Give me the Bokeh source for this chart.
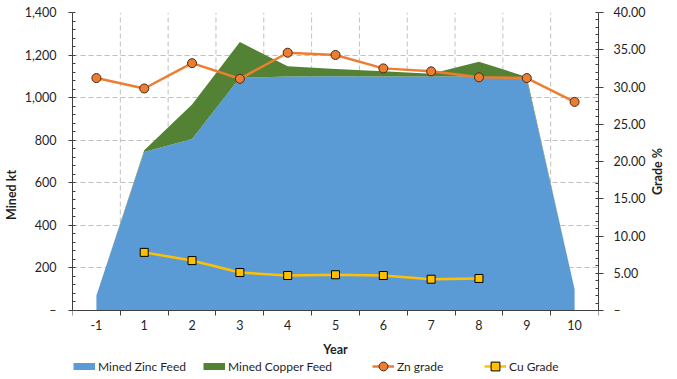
from bokeh.plotting import figure
from bokeh.models import (ColumnDataSource, Range1d, LinearAxis, FixedTicker, SingleIntervalTicker,
                          NumeralTickFormatter, Legend, LegendItem)
from bokeh.embed import file_html
from bokeh.resources import INLINE
import math

years = ["-1", "1", "2", "3", "4", "5", "6", "7", "8", "9", "10"]
zinc_feed = [70, 745, 806, 1093, 1099, 1100, 1099, 1099, 1099, 1085, 100]
copper_feed = [0, 8, 162, 168, 48, 35, 25, 13, 70, 12, 0]
zn_grade = [31.2, 29.8, 33.2, 31.1, 34.6, 34.3, 32.5, 32.1, 31.3, 31.2, 28.0]
cu_grade = [math.nan, 7.8, 6.7, 5.1, 4.7, 4.8, 4.7, 4.2, 4.3, math.nan, math.nan]

left_ticks = [0, 200, 400, 600, 800, 1000, 1200, 1400]
right_ticks = [0, 5, 10, 15, 20, 25, 30, 35, 40]
series_names = ["Mined Zinc Feed", "Mined Copper Feed", "Zn grade", "Cu Grade"]

FONT = "Lato"
TXT = "#1f1f1f"
BLUE, GREEN, ORANGE, YELLOW = "#5B9BD5", "#548235", "#ED7D31", "#FFC000"

# layout (pixels)
W, H = 675, 377
FRAME_LEFT, FRAME_TOP, ZERO_Y = 72, 12, 310
FRAME_RIGHT = 600
below_frac = (H - ZERO_Y) / (ZERO_Y - FRAME_TOP)   # room under the value axis for labels + legend

xs = [i + 0.5 for i in range(len(years))]
bounds = list(range(len(years) + 1))

src = ColumnDataSource(dict(x=xs, zinc=zinc_feed, copper=copper_feed, zn=zn_grade, cu=cu_grade))

p = figure(width=W, height=H, output_backend="svg", toolbar_location=None,
           x_range=Range1d(0, len(years)),
           y_range=Range1d(-left_ticks[-1] * below_frac, left_ticks[-1]),
           min_border_left=FRAME_LEFT, min_border_right=W - FRAME_RIGHT,
           min_border_top=FRAME_TOP, min_border_bottom=0)
p.outline_line_color = None
p.background_fill_color = "white"
p.border_fill_color = "white"

p.extra_y_ranges = {"grade": Range1d(-right_ticks[-1] * below_frac, right_ticks[-1])}

# vertical dashed gridlines at category boundaries (only over the value area)
p.segment(x0=bounds, x1=bounds, y0=[left_ticks[0]] * len(bounds), y1=[left_ticks[-1]] * len(bounds),
          line_color="#c0c0c0", line_dash="5 3", line_width=1, level="underlay")

areas = p.varea_stack(["zinc", "copper"], x="x", source=src, color=[BLUE, GREEN])
zl = p.line("x", "zn", source=src, line_color=ORANGE, line_width=2.5, y_range_name="grade")
zs = p.scatter("x", "zn", source=src, marker="circle", size=9, fill_color=ORANGE,
               line_color="#4a2a14", line_width=1, y_range_name="grade")
cl = p.line("x", "cu", source=src, line_color=YELLOW, line_width=2.5, y_range_name="grade")
cs = p.scatter("x", "cu", source=src, marker="square", size=8, fill_color=YELLOW,
               line_color="#000000", line_width=1, y_range_name="grade")

# legend keys for the areas (thin bars, like the reference)
key_zinc = p.line(x=[math.nan], y=[math.nan], line_color=BLUE, line_width=7, line_cap="butt")
key_cop = p.line(x=[math.nan], y=[math.nan], line_color=GREEN, line_width=7, line_cap="butt")

# grids
p.xgrid.visible = False
p.ygrid.ticker = FixedTicker(ticks=left_ticks[1:-1])
p.ygrid.grid_line_color = "#c0c0c0"
p.ygrid.grid_line_dash = "5 3"
p.ygrid.grid_line_width = 1

def style_axis(ax):
    ax.axis_line_color = "#404040"
    ax.major_tick_line_color = "#404040"
    ax.minor_tick_line_color = "#404040"
    ax.major_label_text_font = FONT
    ax.major_label_text_font_size = "12.5px"
    ax.major_label_text_color = TXT
    ax.axis_label_text_font = FONT
    ax.axis_label_text_font_size = "12.5px"
    ax.axis_label_text_font_style = "bold"
    ax.axis_label_text_color = TXT

# x axis, sitting on the zero line
xa = p.xaxis[0]
xa.fixed_location = 0
xa.ticker = FixedTicker(ticks=xs, minor_ticks=bounds)
xa.major_label_overrides = {x: y for x, y in zip(xs, years)}
xa.major_tick_out = 0
xa.major_tick_in = 0
xa.minor_tick_out = 5
xa.minor_tick_in = 0
xa.major_label_standoff = 4
xa.axis_label = "Year"
xa.axis_label_standoff = 9
style_axis(xa)

# left axis
ya = p.yaxis[0]
ya.bounds = (left_ticks[0], left_ticks[-1])
ya.ticker = SingleIntervalTicker(interval=200, num_minor_ticks=5)
ya.formatter = NumeralTickFormatter(format="0,0")
ya.major_label_overrides = {0: "\u2013"}
ya.major_tick_out = 4
ya.major_tick_in = 0
ya.minor_tick_out = 0
ya.minor_tick_in = 3
ya.major_label_standoff = 12
ya.axis_label = "Mined kt"
ya.axis_label_standoff = 3
style_axis(ya)

# right axis
ra = LinearAxis(y_range_name="grade", axis_label="Grade %")
ra.bounds = (right_ticks[0], right_ticks[-1])
ra.ticker = SingleIntervalTicker(interval=5, num_minor_ticks=5)
ra.formatter = NumeralTickFormatter(format="0.00")
ra.major_label_overrides = {0: "\u2013"}
ra.major_tick_out = 5
ra.major_tick_in = 0
ra.minor_tick_out = 0
ra.minor_tick_in = 3
ra.major_label_standoff = 10
ra.axis_label_standoff = 9
ra.axis_label_orientation = math.pi / 2
ra.axis_label_text_baseline = "top"
style_axis(ra)
p.add_layout(ra, "right")

def make_legend(items, loc, lw):
    L = Legend(items=items, orientation="horizontal", location=loc)
    L.label_text_font = FONT
    L.label_text_font_size = "12px"
    L.label_text_color = TXT
    L.glyph_width = 22
    L.glyph_height = 22
    L.label_height = 22
    L.label_width = lw
    L.spacing = 0
    L.label_standoff = 3
    L.padding = 0
    L.margin = 0
    L.border_line_color = None
    L.background_fill_alpha = 0
    return L

leg1 = make_legend([LegendItem(label=series_names[0], renderers=[key_zinc]),
                    LegendItem(label=series_names[1], renderers=[key_cop])], (1, 0), 105)
leg2 = make_legend([LegendItem(label=series_names[2], renderers=[zl, zs]),
                    LegendItem(label=series_names[3], renderers=[cl, cs])], (300, 0), 87)
p.add_layout(leg1, "center")
p.add_layout(leg2, "center")

open("out.html", "w").write(file_html(p, INLINE))
